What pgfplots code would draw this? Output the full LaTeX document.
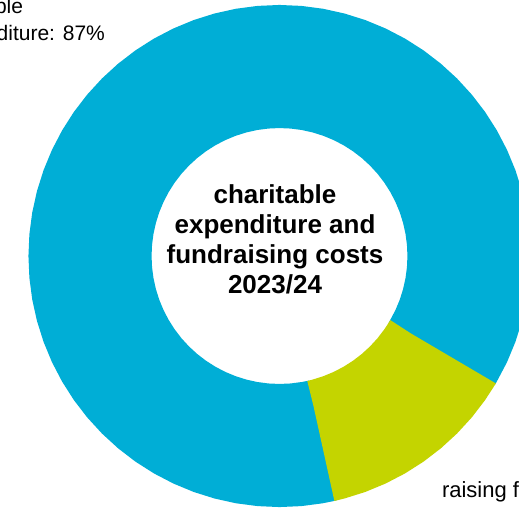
\documentclass[border=0pt]{standalone}
\usepackage{pgfplots}
\pgfplotsset{compat=1.18}
\usepgfplotslibrary{polar}
\usepackage{fontspec}
\setmainfont{Liberation Sans}
\definecolor{cblue}{RGB}{0,174,214}
\definecolor{cgreen}{RGB}{196,212,0}
\begin{document}
\begin{tikzpicture}[x=1pt,y=1pt]
\useasboundingbox (-279.5,-259) rectangle (239.5,256);
\begin{scope}
\clip (-279.5,-259) rectangle (239.5,256);
\begin{polaraxis}[
  at={(0pt,0pt)}, anchor=center,
  scale only axis, width=502pt, height=502pt,
  ymin=0, ymax=251,
  hide axis, clip=false,
]
% charitable expenditure 87% (313.2 deg)
\addplot[draw=cblue, line width=123pt, line cap=butt, no marks] coordinates {
(-31,189.5) (-30.5,189.5) (-25,189.5) (-20,189.5) (-15,189.5) (-10,189.5) (-5,189.5)
(0,189.5) (5,189.5) (10,189.5) (15,189.5) (20,189.5) (25,189.5) (30,189.5)
(35,189.5) (40,189.5) (45,189.5) (50,189.5) (55,189.5) (60,189.5) (65,189.5)
(70,189.5) (75,189.5) (80,189.5) (85,189.5) (90,189.5) (95,189.5) (100,189.5)
(105,189.5) (110,189.5) (115,189.5) (120,189.5) (125,189.5) (130,189.5)
(135,189.5) (140,189.5) (145,189.5) (150,189.5) (155,189.5) (160,189.5)
(165,189.5) (170,189.5) (175,189.5) (180,189.5) (185,189.5) (190,189.5)
(195,189.5) (200,189.5) (205,189.5) (210,189.5) (215,189.5) (220,189.5)
(225,189.5) (230,189.5) (235,189.5) (240,189.5) (245,189.5) (250,189.5)
(255,189.5) (260,189.5) (265,189.5) (270,189.5) (275,189.5) (280,189.5)
(282.7,189.5) (283.2,189.5)
};
% fundraising costs 13% (46.8 deg)
\addplot[draw=cgreen, line width=123pt, line cap=butt, no marks] coordinates {
(-77.3,189.5) (-77,189.5) (-75,189.5) (-70,189.5) (-65,189.5) (-60,189.5) (-55,189.5)
(-50,189.5) (-45,189.5) (-40,189.5) (-35,189.5) (-31,189.5) (-30.5,189.5)
};
\end{polaraxis}
\begin{scope}[every node/.style={inner sep=0pt, outer sep=0pt}]
\node[anchor=base west, font=\fontsize{21}{24}\selectfont] at (-347.5,243) {charitable};
\node[anchor=base west, font=\fontsize{21}{24}\selectfont] at (-340,216) {expenditure: 87\%};
\node[anchor=base west, font=\fontsize{22}{24}\selectfont] at (162.5,-241) {raising fees: 13\%};
\node[anchor=base, font=\bfseries\fontsize{26}{30}\selectfont] at (-4.5,53) {charitable};
\node[anchor=base, font=\bfseries\fontsize{26}{30}\selectfont] at (-4.5,23) {expenditure and};
\node[anchor=base, font=\bfseries\fontsize{26}{30}\selectfont] at (-4.5,-7) {fundraising costs};
\node[anchor=base, font=\bfseries\fontsize{26}{30}\selectfont] at (-4.5,-37) {2023/24};
\end{scope}
\end{scope}
\end{tikzpicture}
\end{document}
